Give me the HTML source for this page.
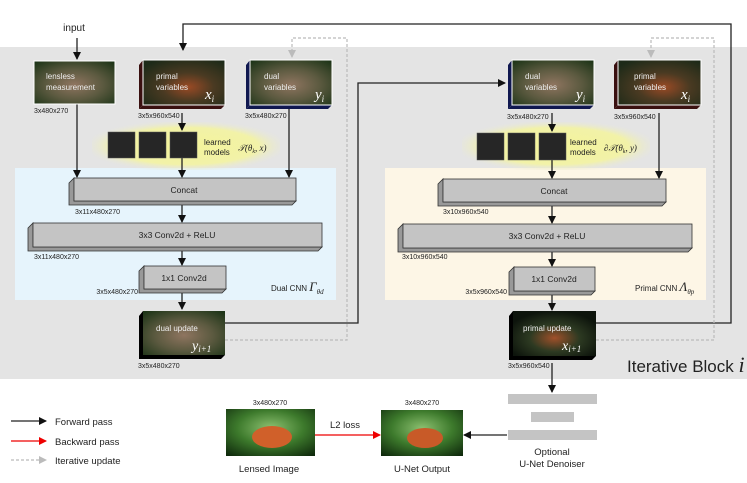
<!DOCTYPE html>
<html><head><meta charset="utf-8"><style>
html,body{margin:0;padding:0;background:#fff}
svg{display:block}
text{font-family:"Liberation Sans","DejaVu Sans",sans-serif}
.s{font-size:7px;fill:#222}
.m{font-family:"Liberation Serif",serif;font-style:italic}
</style></head><body>
<svg width="747" height="483" viewBox="0 0 747 483" xmlns="http://www.w3.org/2000/svg">
<defs>
<radialGradient id="gg" cx="0.5" cy="0.55" r="0.7">
<stop offset="0" stop-color="#8f7560"/><stop offset="0.5" stop-color="#5c5a40"/><stop offset="1" stop-color="#1e3518"/></radialGradient>
<radialGradient id="bf" cx="0.55" cy="0.6" r="0.7">
<stop offset="0" stop-color="#9a4a25"/><stop offset="0.45" stop-color="#4a3a22"/><stop offset="1" stop-color="#1d2a18"/></radialGradient>
<radialGradient id="pu" cx="0.5" cy="0.6" r="0.6">
<stop offset="0" stop-color="#a0502a"/><stop offset="0.5" stop-color="#2d3a22"/><stop offset="1" stop-color="#0d140c"/></radialGradient>
<radialGradient id="li" cx="0.5" cy="0.4" r="0.75">
<stop offset="0" stop-color="#8cc070"/><stop offset="0.5" stop-color="#3d7a2c"/><stop offset="1" stop-color="#0f2a0c"/></radialGradient>
<radialGradient id="yl" cx="0.5" cy="0.5" r="0.55">
<stop offset="0" stop-color="#f4f49a"/><stop offset="0.7" stop-color="#f2f2a8"/><stop offset="1" stop-color="#e6e6e0" stop-opacity="0"/></radialGradient>
<marker id="a" markerWidth="8" markerHeight="8" refX="7" refY="4" orient="auto" markerUnits="userSpaceOnUse"><path d="M0,0L8,4L0,8z" fill="#111"/></marker>
<marker id="r" markerWidth="8" markerHeight="8" refX="7" refY="4" orient="auto" markerUnits="userSpaceOnUse"><path d="M0,0L8,4L0,8z" fill="#e00"/></marker>
<marker id="g" markerWidth="8" markerHeight="8" refX="7" refY="4" orient="auto" markerUnits="userSpaceOnUse"><path d="M0,0L8,4L0,8z" fill="#bbb"/></marker>
</defs>
<rect x="0" y="47" width="747" height="332" fill="#e4e4e4"/>
<rect x="15" y="168" width="321" height="132" fill="#e6f4fc"/>
<rect x="385" y="168" width="321" height="132" fill="#fdf6e6"/>
<rect x="92" y="122" width="188" height="48" rx="20" fill="url(#yl)"/>
<rect x="462" y="122" width="188" height="48" rx="20" fill="url(#yl)"/>

<g fill="none" stroke="#222" stroke-width="1.3">
<path d="M77,38V59" marker-end="url(#a)"/>
<path d="M77,104V177" marker-end="url(#a)"/>
<path d="M182,113V130" marker-end="url(#a)"/>
<path d="M182,158V177" marker-end="url(#a)"/>
<path d="M289,109V177" marker-end="url(#a)"/>
<path d="M182,205V222" marker-end="url(#a)"/>
<path d="M182,251V265" marker-end="url(#a)"/>
<path d="M182,293V309" marker-end="url(#a)"/>
<path d="M596,323H731V24H183V50" marker-end="url(#a)"/>
<path d="M225,323H358V83H505" marker-end="url(#a)"/>
<path d="M552,113V131" marker-end="url(#a)"/>
<path d="M552,160V178" marker-end="url(#a)"/>
<path d="M659,113V178" marker-end="url(#a)"/>
<path d="M552,206V223" marker-end="url(#a)"/>
<path d="M552,252V266" marker-end="url(#a)"/>
<path d="M552,295V310" marker-end="url(#a)"/>
<path d="M552,363V392" marker-end="url(#a)"/>
<path d="M507,435H464" marker-end="url(#a)"/>
<path d="M11,421H46" marker-end="url(#a)"/>
</g>
<g fill="none" stroke="#bbb" stroke-width="1.2" stroke-dasharray="3,2">
<path d="M225,340H347V38H292V57" marker-end="url(#g)"/>
<path d="M596,340H714V38H651V57" marker-end="url(#g)"/>
<path d="M11,460H46" marker-end="url(#g)"/>
</g>
<path d="M315,435H380" stroke="#e00" stroke-width="1.3" marker-end="url(#r)"/>
<path d="M11,441H46" stroke="#e00" stroke-width="1.3" marker-end="url(#r)"/>

<text x="74" y="31" font-size="10" text-anchor="middle" fill="#222">input</text>

<rect x="34" y="61" width="81" height="43" fill="url(#gg)" stroke="#fff"/>
<text x="46" y="79" font-size="8" fill="#eee">lensless</text><text x="46" y="90" font-size="8" fill="#eee">measurement</text>
<text x="34" y="113" class="s">3x480x270</text>

<polygon points="139,65 143,60 143,105 139,109" fill="#3a1010"/><polygon points="139,109 143,105 225,105 221,109" fill="#3a1010"/>
<rect x="143" y="60" width="82" height="45" fill="url(#bf)" stroke="#fff"/>
<text x="156" y="79" font-size="8" fill="#eee">primal</text><text x="156" y="90" font-size="8" fill="#eee">variables</text>
<text x="205" y="99" font-size="15" class="m" fill="#fff">x<tspan font-size="9" dy="3">i</tspan></text>
<text x="138" y="118" class="s">3x5x960x540</text>

<polygon points="246,65 250,60 250,105 246,109" fill="#101850"/><polygon points="246,109 250,105 332,105 328,109" fill="#101850"/>
<rect x="250" y="60" width="82" height="45" fill="url(#gg)" stroke="#fff"/>
<text x="264" y="79" font-size="8" fill="#eee">dual</text><text x="264" y="90" font-size="8" fill="#eee">variables</text>
<text x="315" y="99" font-size="15" class="m" fill="#fff">y<tspan font-size="9" dy="3">i</tspan></text>
<text x="245" y="118" class="s">3x5x480x270</text>

<g fill="#262626" stroke="#555" stroke-width="0.5">
<rect x="108" y="132" width="27" height="26"/><rect x="139" y="132" width="27" height="26"/><rect x="170" y="132" width="27" height="26"/>
<rect x="477" y="133" width="27" height="27"/><rect x="508" y="133" width="27" height="27"/><rect x="539" y="133" width="27" height="27"/>
</g>
<text x="204" y="145" font-size="8" fill="#222">learned</text><text x="204" y="155" font-size="8" fill="#222">models</text>
<text x="238" y="151" font-size="9" class="m" fill="#222">𝒯(θ<tspan font-size="6" dy="2">k</tspan><tspan dy="-2">, x)</tspan></text>
<text x="570" y="145" font-size="8" fill="#222">learned</text><text x="570" y="155" font-size="8" fill="#222">models</text>
<text x="604" y="151" font-size="9" class="m" fill="#222">∂𝒯(θ<tspan font-size="6" dy="2">k</tspan><tspan dy="-2">, y)</tspan></text>

<g stroke="#333" stroke-width="0.8">
<polygon points="69,183 74,178 74,201 296,201 292,205 69,205" fill="#999"/>
<rect x="74" y="178" width="222" height="23" fill="#c4c4c4"/>
<polygon points="28,228 33,223 33,247 322,247 318,251 28,251" fill="#999"/>
<rect x="33" y="223" width="289" height="24" fill="#c4c4c4"/>
<polygon points="139,271 144,266 144,289 226,289 222,293 139,293" fill="#999"/>
<rect x="144" y="266" width="82" height="23" fill="#c4c4c4"/>
<polygon points="438,184 443,179 443,202 666,202 662,206 438,206" fill="#999"/>
<rect x="443" y="179" width="223" height="23" fill="#c4c4c4"/>
<polygon points="398,229 403,224 403,248 692,248 688,252 398,252" fill="#999"/>
<rect x="403" y="224" width="289" height="24" fill="#c4c4c4"/>
<polygon points="509,272 514,267 514,291 595,291 591,295 509,295" fill="#999"/>
<rect x="514" y="267" width="81" height="24" fill="#c4c4c4"/>
</g>
<g font-size="8.5" fill="#222" text-anchor="middle">
<text x="184" y="193">Concat</text><text x="177" y="238">3x3 Conv2d + ReLU</text><text x="184" y="281">1x1 Conv2d</text>
<text x="554" y="194">Concat</text><text x="547" y="239">3x3 Conv2d + ReLU</text><text x="554" y="282">1x1 Conv2d</text>
</g>
<text x="75" y="214" class="s">3x11x480x270</text><text x="34" y="259" class="s">3x11x480x270</text><text x="138" y="294" class="s" text-anchor="end">3x5x480x270</text>
<text x="443" y="214" class="s">3x10x960x540</text><text x="402" y="259" class="s">3x10x960x540</text><text x="507" y="294" class="s" text-anchor="end">3x5x960x540</text>
<text x="271" y="291" font-size="8" fill="#222">Dual CNN <tspan class="m" font-size="13">Γ</tspan><tspan class="m" font-size="7" dy="3">θd</tspan></text>
<text x="635" y="291" font-size="8" fill="#222">Primal CNN <tspan class="m" font-size="13">Λ</tspan><tspan class="m" font-size="7" dy="3">θp</tspan></text>

<polygon points="139,316 143,311 143,355 225,355 221,359 139,359" fill="#000"/>
<rect x="143" y="311" width="82" height="44" fill="url(#gg)"/>
<text x="156" y="331" font-size="8" fill="#eee">dual update</text>
<text x="192" y="350" font-size="14" class="m" fill="#fff">y<tspan font-size="9" dy="2">i+1</tspan></text>
<text x="138" y="368" class="s">3x5x480x270</text>
<polygon points="509,316 513,311 513,356 596,356 592,360 509,360" fill="#000"/>
<rect x="513" y="311" width="83" height="45" fill="url(#pu)"/>
<text x="523" y="331" font-size="8" fill="#eee">primal update</text>
<text x="562" y="350" font-size="14" class="m" fill="#fff">x<tspan font-size="9" dy="2">i+1</tspan></text>
<text x="508" y="368" class="s">3x5x960x540</text>

<polygon points="508,65 512,60 512,105 508,109" fill="#101850"/><polygon points="508,109 512,105 594,105 590,109" fill="#101850"/>
<rect x="512" y="60" width="82" height="45" fill="url(#gg)" stroke="#fff"/>
<text x="525" y="79" font-size="8" fill="#eee">dual</text><text x="525" y="90" font-size="8" fill="#eee">variables</text>
<text x="576" y="99" font-size="15" class="m" fill="#fff">y<tspan font-size="9" dy="3">i</tspan></text>
<text x="507" y="119" class="s">3x5x480x270</text>
<polygon points="614,65 618,60 618,105 614,109" fill="#3a1010"/><polygon points="614,109 618,105 701,105 697,109" fill="#3a1010"/>
<rect x="618" y="60" width="83" height="45" fill="url(#bf)" stroke="#fff"/>
<text x="634" y="79" font-size="8" fill="#eee">primal</text><text x="634" y="90" font-size="8" fill="#eee">variables</text>
<text x="681" y="99" font-size="15" class="m" fill="#fff">x<tspan font-size="9" dy="3">i</tspan></text>
<text x="614" y="119" class="s">3x5x960x540</text>

<text x="627" y="372" font-size="17" fill="#222">Iterative Block <tspan class="m" font-size="22">i</tspan></text>

<g font-size="9.5" fill="#222"><text x="55" y="425">Forward pass</text><text x="55" y="445">Backward pass</text><text x="55" y="464">Iterative update</text></g>
<rect x="226" y="409" width="89" height="47" fill="url(#li)"/>
<ellipse cx="272" cy="437" rx="20" ry="11" fill="#d0602a"/>
<rect x="381" y="410" width="82" height="46" fill="url(#li)"/>
<ellipse cx="425" cy="438" rx="18" ry="10" fill="#c85a28"/>
<text x="270" y="405" class="s" text-anchor="middle">3x480x270</text>
<text x="422" y="405" class="s" text-anchor="middle">3x480x270</text>
<g font-size="9.5" fill="#222" text-anchor="middle">
<text x="269" y="472">Lensed Image</text><text x="422" y="472">U-Net Output</text><text x="345" y="428">L2 loss</text>
<text x="552" y="455">Optional</text><text x="552" y="467">U-Net Denoiser</text></g>
<rect x="508" y="394" width="89" height="10" fill="#c4c4c4"/>
<rect x="531" y="412" width="43" height="10" fill="#c4c4c4"/>
<rect x="508" y="430" width="89" height="10" fill="#c4c4c4"/>
</svg>
</body></html>
